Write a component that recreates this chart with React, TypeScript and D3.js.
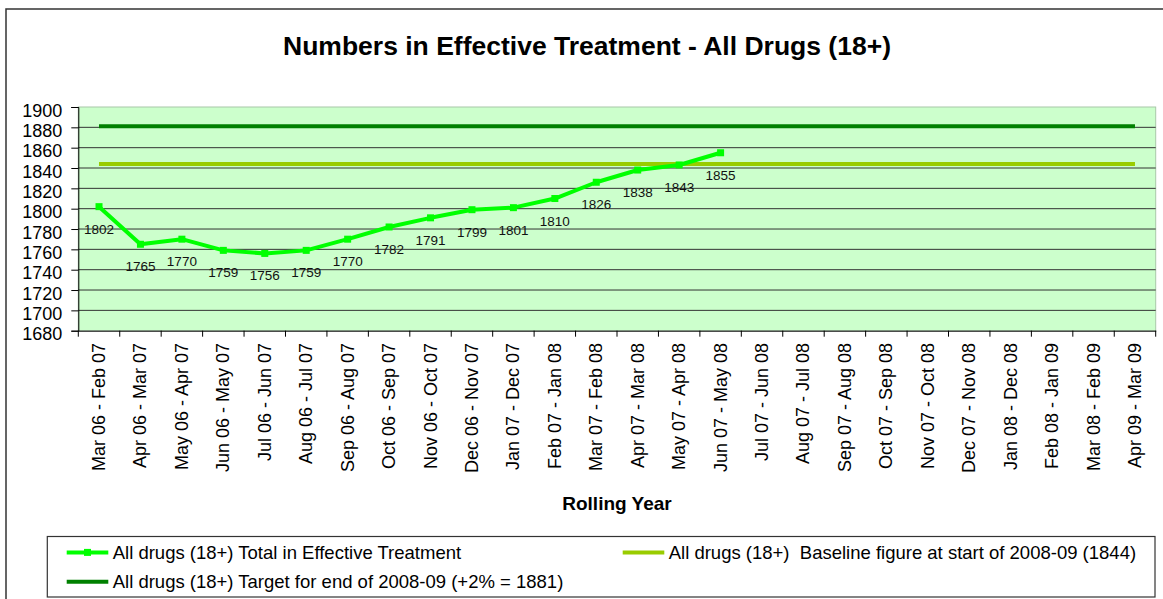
import React, { useEffect, useRef } from 'react';
import * as d3 from 'd3';

const periods = [
  'Mar 06 - Feb 07', 'Apr 06 - Mar 07', 'May 06 - Apr 07', 'Jun 06 - May 07',
  'Jul 06 - Jun 07', 'Aug 06 - Jul 07', 'Sep 06 - Aug 07', 'Oct 06 - Sep 07',
  'Nov 06 - Oct 07', 'Dec 06 - Nov 07', 'Jan 07 - Dec 07', 'Feb 07 - Jan 08',
  'Mar 07 - Feb 08', 'Apr 07 - Mar 08', 'May 07 - Apr 08', 'Jun 07 - May 08',
  'Jul 07 - Jun 08', 'Aug 07 - Jul 08', 'Sep 07 - Aug 08', 'Oct 07 - Sep 08',
  'Nov 07 - Oct 08', 'Dec 07 - Nov 08', 'Jan 08 - Dec 08', 'Feb 08 - Jan 09',
  'Mar 08 - Feb 09', 'Apr 09 - Mar 09',
];

const totalInTreatment = [
  1802, 1765, 1770, 1759, 1756, 1759, 1770, 1782, 1791, 1799, 1801, 1810, 1826, 1838, 1843, 1855,
];

const baselineValue = 1844;
const targetValue = 1881;

const yTicks = [1680, 1700, 1720, 1740, 1760, 1780, 1800, 1820, 1840, 1860, 1880, 1900];

const legendItems = [
  { label: 'All drugs (18+) Total in Effective Treatment', color: '#00ff00', marker: true, col: 0, row: 0 },
  { label: 'All drugs (18+)  Baseline figure at start of 2008-09 (1844)', color: '#99cc00', marker: false, col: 1, row: 0 },
  { label: 'All drugs (18+) Target for end of 2008-09 (+2% = 1881)', color: '#008000', marker: false, col: 0, row: 1 },
];

const FONT = '"Liberation Sans", Arial, Helvetica, sans-serif';

const App: React.FC = () => {
  const svgRef = useRef<SVGSVGElement>(null);

  useEffect(() => {
    if (!svgRef.current) return;
    const svg = d3.select(svgRef.current);
    svg.selectAll('*').remove();

    const plot = { left: 78.3, right: 1155.7, top: 107, bottom: 330.7 };

    const x = d3.scaleBand<string>()
      .domain(periods)
      .range([plot.left, plot.right])
      .padding(0);
    const cx = (p: string) => (x(p) as number) + x.bandwidth() / 2;

    const y = d3.scaleLinear()
      .domain([1680, 1900])
      .range([plot.bottom, plot.top]);

    // outer chart border
    svg.append('rect')
      .attr('x', 6).attr('y', 9)
      .attr('width', 1170).attr('height', 600)
      .attr('fill', '#fff')
      .attr('stroke', '#333').attr('stroke-width', 1.5);

    // title
    svg.append('text')
      .attr('x', 587).attr('y', 55)
      .attr('text-anchor', 'middle')
      .style('font-family', FONT)
      .style('font-size', '26.5px')
      .style('font-weight', 'bold')
      .text('Numbers in Effective Treatment - All Drugs (18+)');

    // plot background
    svg.append('rect')
      .attr('x', plot.left).attr('y', plot.top)
      .attr('width', plot.right - plot.left)
      .attr('height', plot.bottom - plot.top)
      .attr('fill', '#ccffcc')
      .attr('stroke', '#a8c8a8').attr('stroke-width', 1);

    // gridlines
    svg.append('g')
      .selectAll('line')
      .data(yTicks.filter(t => t > 1680 && t < 1900))
      .enter()
      .append('line')
      .attr('x1', plot.left).attr('x2', plot.right)
      .attr('y1', d => y(d)).attr('y2', d => y(d))
      .attr('stroke', '#333').attr('stroke-width', 1);

    // y axis
    const yAxis = d3.axisLeft(y)
      .tickValues(yTicks)
      .tickSize(7)
      .tickPadding(9)
      .tickFormat(d3.format('d') as any);
    const yg = svg.append('g')
      .attr('transform', `translate(${plot.left},0)`)
      .call(yAxis);
    yg.select('.domain').attr('stroke', '#000');
    yg.selectAll('.tick line').attr('stroke', '#000');
    yg.selectAll('.tick text')
      .attr('dy', null)
      .attr('y', 9)
      .style('font-family', FONT)
      .style('font-size', '18px')
      .attr('fill', '#000');

    // x axis
    const xAxis = d3.axisBottom(x).tickSize(0).tickFormat(() => '');
    const xg = svg.append('g')
      .attr('transform', `translate(0,${plot.bottom})`)
      .call(xAxis);
    xg.select('.domain').attr('stroke', '#000');
    xg.selectAll('.tick').remove();

    // category boundary ticks
    const bounds = periods.map(p => x(p) as number).concat([plot.right]);
    svg.append('g')
      .selectAll('line')
      .data(bounds)
      .enter()
      .append('line')
      .attr('x1', d => d).attr('x2', d => d)
      .attr('y1', plot.bottom).attr('y2', plot.bottom + 6)
      .attr('stroke', '#000');

    // rotated category labels
    svg.append('g')
      .selectAll('text')
      .data(periods)
      .enter()
      .append('text')
      .attr('transform', d => `translate(${cx(d) + 6},343) rotate(-90)`)
      .attr('text-anchor', 'end')
      .style('font-family', FONT)
      .style('font-size', '18px')
      .text(d => d);

    // axis title
    svg.append('text')
      .attr('x', (plot.left + plot.right) / 2).attr('y', 510)
      .attr('text-anchor', 'middle')
      .style('font-family', FONT)
      .style('font-size', '19px')
      .style('font-weight', 'bold')
      .text('Rolling Year');

    // target & baseline
    const first = cx(periods[0]);
    const last = cx(periods[periods.length - 1]);
    svg.append('line')
      .attr('x1', first).attr('x2', last)
      .attr('y1', y(targetValue)).attr('y2', y(targetValue))
      .attr('stroke', '#008000').attr('stroke-width', 4);
    svg.append('line')
      .attr('x1', first).attr('x2', last)
      .attr('y1', y(baselineValue)).attr('y2', y(baselineValue))
      .attr('stroke', '#99cc00').attr('stroke-width', 4);

    // total series
    const pts = totalInTreatment.map((v, i) => ({ p: periods[i], v }));
    const line = d3.line<{ p: string; v: number }>()
      .x(d => cx(d.p))
      .y(d => y(d.v));
    svg.append('path')
      .datum(pts)
      .attr('d', line)
      .attr('fill', 'none')
      .attr('stroke', '#00ff00')
      .attr('stroke-width', 4)
      .attr('stroke-linejoin', 'round');

    svg.append('g')
      .selectAll('rect')
      .data(pts)
      .enter()
      .append('rect')
      .attr('x', d => cx(d.p) - 3.5)
      .attr('y', d => y(d.v) - 3.5)
      .attr('width', 7).attr('height', 7)
      .attr('fill', '#00ff00');

    svg.append('g')
      .selectAll('text')
      .data(pts)
      .enter()
      .append('text')
      .attr('x', d => cx(d.p))
      .attr('y', d => y(d.v) + 27)
      .attr('text-anchor', 'middle')
      .style('font-family', FONT)
      .style('font-size', '13.5px')
      .attr('fill', '#111')
      .text(d => d.v);

    // legend
    const legend = svg.append('g');
    legend.append('rect')
      .attr('x', 47.3).attr('y', 536.5)
      .attr('width', 1155 - 47.3).attr('height', 60.5)
      .attr('fill', '#fff')
      .attr('stroke', '#333').attr('stroke-width', 1.2);

    const colX = [66.7, 622.7];
    const rowY = [552.4, 581.7];
    legendItems.forEach(item => {
      const lx = colX[item.col];
      const ly = rowY[item.row];
      const g = legend.append('g');
      g.append('line')
        .attr('x1', lx).attr('x2', lx + 41.6)
        .attr('y1', ly).attr('y2', ly)
        .attr('stroke', item.color).attr('stroke-width', 4);
      if (item.marker) {
        g.append('rect')
          .attr('x', lx + 20.8 - 3.5).attr('y', ly - 3.5)
          .attr('width', 7).attr('height', 7)
          .attr('fill', item.color);
      }
      g.append('text')
        .attr('x', lx + 46).attr('y', ly + 6.6)
        .style('font-family', FONT)
        .style('font-size', '18.5px')
        .style('white-space', 'pre')
        .text(item.label);
    });
  }, []);

  return (
    <svg
      ref={svgRef}
      width={1163}
      height={599}
      style={{ position: 'absolute', left: 0, top: 0, background: '#fff' }}
    />
  );
};

export default App;
